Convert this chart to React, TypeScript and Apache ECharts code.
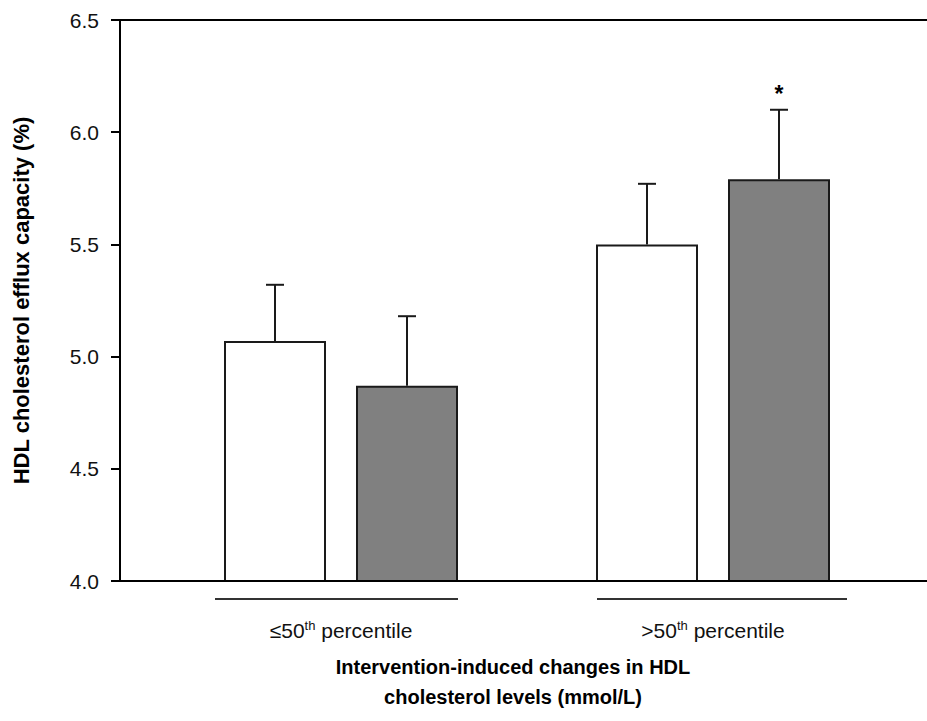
import React, { useEffect, useRef } from "react";
import * as echarts from "echarts";

const categories = ["≤50", ">50"];
const baselineValues = [5.07, 5.5];
const baselineErrors = [0.25, 0.27];
const interventionValues = [4.87, 5.79];
const interventionErrors = [0.31, 0.31];
const interventionMarks = ["", "*"];
const yTicks = { min: 4.0, max: 6.5, interval: 0.5 };
const yTitle = "HDL cholesterol efflux capacity (%)";
const xTitleLines = ["Intervention-induced changes in HDL", "cholesterol levels (mmol/L)"];

const FONT = "'Liberation Sans', Arial, Helvetica, sans-serif";
const BAR_W = 102;
const GAP = 30;
const INK = "#1a1a1a";

function errorSeries(values: number[], errs: number[], marks: string[], offset: number) {
  return {
    type: "custom",
    z: 5,
    silent: true,
    data: values.map((v, i) => [i, v, errs[i]]),
    renderItem: (params: any, api: any) => {
      const i = api.value(0);
      const v = api.value(1);
      const e = api.value(2);
      const base = api.coord([i, v]);
      const top = api.coord([i, v + e]);
      const x = base[0] + offset;
      const children: any[] = [
        {
          type: "line",
          shape: { x1: x, y1: base[1], x2: x, y2: top[1] },
          style: { stroke: INK, lineWidth: 2 },
        },
        {
          type: "line",
          shape: { x1: x - 9, y1: top[1], x2: x + 9, y2: top[1] },
          style: { stroke: INK, lineWidth: 2 },
        },
      ];
      const m = marks[params.dataIndex];
      if (m) {
        children.push({
          type: "text",
          style: {
            text: m,
            x: x,
            y: top[1] - 16,
            textAlign: "center",
            textVerticalAlign: "middle",
            fontSize: 23,
            fontWeight: "bold",
            fontFamily: FONT,
            fill: "#000",
          },
        });
      }
      return { type: "group", children };
    },
  };
}

export default function App() {
  const ref = useRef<HTMLDivElement>(null);
  useEffect(() => {
    if (!ref.current) return;
    const chart = echarts.init(ref.current, null, { renderer: "svg" });
    const offset = (BAR_W + GAP) / 2;
    chart.setOption({
      animation: false,
      backgroundColor: "#fff",
      textStyle: { fontFamily: FONT },
      grid: { left: 155, right: 28, top: 20, bottom: 140, containLabel: false },
      xAxis: {
        type: "category",
        data: categories,
        axisLine: { show: false },
        axisTick: { show: false },
        axisLabel: {
          margin: 38,
          color: "#111",
          fontSize: 21,
          fontFamily: FONT,
          formatter: (v: string) => `{a|${v}}{sup|th}{a| percentile}`,
          rich: {
            a: { fontSize: 21, fontFamily: FONT, color: "#111" },
            sup: { fontSize: 13, fontFamily: FONT, color: "#111", padding: [0, 0, 10, 0] },
          },
        },
      },
      yAxis: {
        type: "value",
        min: yTicks.min,
        max: yTicks.max,
        interval: yTicks.interval,
        offset: 35,
        splitLine: { show: false },
        axisLine: { show: true, lineStyle: { color: "#000", width: 2 } },
        axisTick: { show: true, inside: false, length: 9, lineStyle: { color: "#000", width: 2 } },
        axisLabel: {
          margin: 21,
          fontSize: 21,
          color: "#111",
          fontFamily: FONT,
          formatter: (v: number) => v.toFixed(1),
        },
        name: yTitle,
        nameLocation: "middle",
        nameGap: 88,
        nameRotate: 90,
        nameTextStyle: { fontSize: 22, fontWeight: "bold", color: "#000", fontFamily: FONT },
      },
      graphic: [
        { type: "line", shape: { x1: 120, y1: 20, x2: 927, y2: 20 }, style: { stroke: "#000", lineWidth: 2 }, z: 10 },
        { type: "line", shape: { x1: 120, y1: 581, x2: 927, y2: 581 }, style: { stroke: "#000", lineWidth: 2 }, z: 10 },
        { type: "line", shape: { x1: 215, y1: 599, x2: 458, y2: 599 }, style: { stroke: "#333", lineWidth: 2 } },
        { type: "line", shape: { x1: 597, y1: 599, x2: 847, y2: 599 }, style: { stroke: "#333", lineWidth: 2 } },
        {
          type: "text",
          x: 513,
          y: 652,
          style: {
            text: xTitleLines.join("\n"),
            textAlign: "center",
            textVerticalAlign: "top",
            fontSize: 20,
            lineHeight: 30,
            fontWeight: "bold",
            fontFamily: FONT,
            fill: "#000",
          },
        },
      ],
      series: [
        {
          type: "bar",
          data: baselineValues,
          barWidth: BAR_W,
          barGap: `${(GAP / BAR_W) * 100}%`,
          itemStyle: { color: "#fff", borderColor: INK, borderWidth: 2 },
        },
        {
          type: "bar",
          data: interventionValues,
          barWidth: BAR_W,
          barGap: `${(GAP / BAR_W) * 100}%`,
          itemStyle: { color: "#808080", borderColor: INK, borderWidth: 2 },
        },
        errorSeries(baselineValues, baselineErrors, ["", ""], -offset),
        errorSeries(interventionValues, interventionErrors, interventionMarks, offset),
      ],
    });
    return () => chart.dispose();
  }, []);
  return (
    <div
      ref={ref}
      style={{ position: "fixed", left: 0, top: 0, width: 927, height: 721, background: "#fff" }}
    />
  );
}
